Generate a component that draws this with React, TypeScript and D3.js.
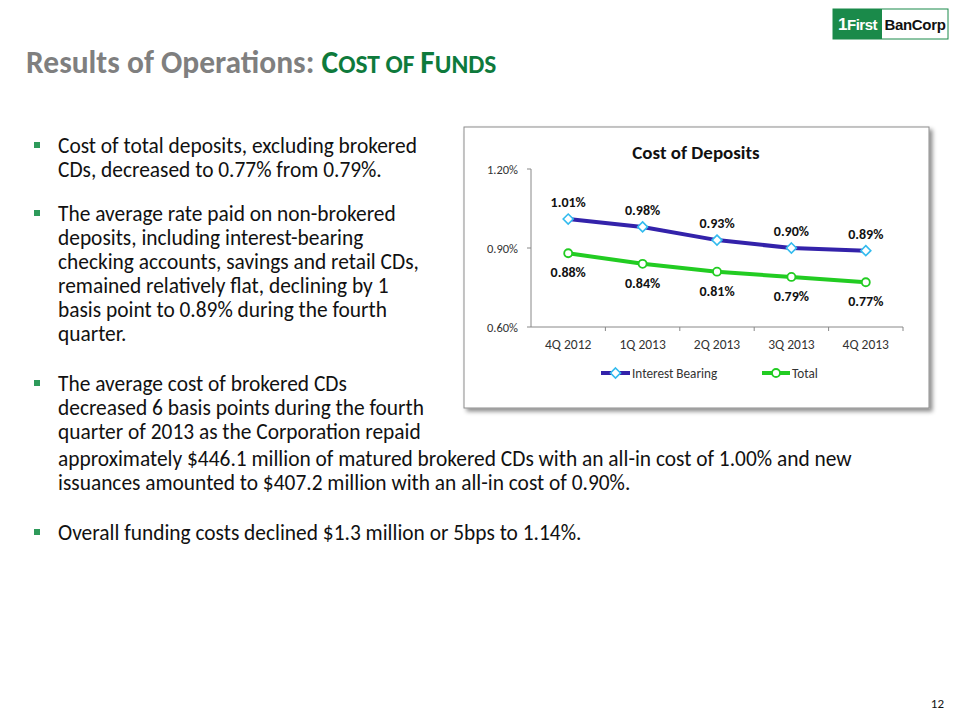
import React from "react";
import * as d3 from "d3";

const categories = ["4Q 2012", "1Q 2013", "2Q 2013", "3Q 2013", "4Q 2013"];
const interestBearing = [1.01, 0.98, 0.93, 0.9, 0.89];
const total = [0.88, 0.84, 0.81, 0.79, 0.77];
const yTicks = [0.6, 0.9, 1.2];
const seriesNames = ["Interest Bearing", "Total"];

const paragraphs: string[][] = [
  ["Cost of total deposits, excluding brokered", "CDs, decreased to 0.77% from 0.79%."],
  [
    "The average rate paid on non-brokered",
    "deposits, including interest-bearing",
    "checking accounts, savings and retail CDs,",
    "remained relatively flat, declining by 1",
    "basis point to 0.89% during the fourth",
    "quarter.",
  ],
  [
    "The average cost of brokered CDs",
    "decreased 6 basis points during the fourth",
    "quarter of 2013 as the Corporation repaid",
    "approximately $446.1 million of matured brokered CDs with an all-in cost of 1.00% and new",
    "issuances amounted to $407.2 million with an all-in cost of 0.90%.",
  ],
  ["Overall funding costs declined $1.3 million or 5bps to 1.14%."],
];
const paraStarts = [153, 221, 391, 540];

const FONT = "Carlito, Calibri, Lato, 'Open Sans', sans-serif";

export default function App() {
  const x = d3.scaleBand<string>().domain(categories).range([531, 903]);
  const y = d3.scaleLinear().domain([0.6, 1.2]).range([327, 169]);
  const cx = (c: string) => (x(c) as number) + x.bandwidth() / 2;
  const line = d3
    .line<number>()
    .x((_, i) => cx(categories[i]))
    .y((d) => y(d));
  const blue = "#3322aa";
  const green = "#22cc22";
  const pct = (v: number) => d3.format(".2f")(v) + "%";

  return (
    <div style={{ position: "absolute", left: 0, top: 0 }}>
      <svg width={960} height={720} style={{ display: "block", fontFamily: FONT }}>
        <defs>
          <filter id="sh" x="-5%" y="-5%" width="115%" height="115%">
            <feDropShadow dx="3" dy="3" stdDeviation="2" floodColor="#000" floodOpacity="0.45" />
          </filter>
          <linearGradient id="rule" x1="0" x2="1">
            <stop offset="0" stopColor="#8a9a90" />
            <stop offset="1" stopColor="#2e8b57" />
          </linearGradient>
        </defs>
        <rect width={960} height={720} fill="#fff" />

        {/* logo */}
        <rect x={833} y={9} width={115} height={30} fill="#fff" stroke="#1a8a4a" strokeWidth={1} />
        <rect x={833} y={9} width={49} height={30} fill="#1a8a4a" />
        <text x={857.5} y={30} fill="#fff" fontFamily="'Liberation Sans', Arial, sans-serif" fontWeight="bold" fontSize={15} textAnchor="middle" letterSpacing={-0.5}>
          <tspan fontSize={17}>1</tspan>First
        </text>
        <text x={915} y={30} fill="#111" fontFamily="'Liberation Sans', Arial, sans-serif" fontWeight="bold" fontSize={15} textAnchor="middle" letterSpacing={-0.3}>
          BanCorp
        </text>

        {/* title */}
        <text x={26} y={73} fontSize={31.5} fontWeight="bold">
          <tspan fill="#7f7f7f">Results of Operations: </tspan>
          <tspan fill="#0e7a3c">C</tspan>
          <tspan fill="#0e7a3c" fontSize={25.5}>OST OF </tspan>
          <tspan fill="#0e7a3c">F</tspan>
          <tspan fill="#0e7a3c" fontSize={25.5}>UNDS</tspan>
        </text>
        <line x1={8} x2={938} y1={79.5} y2={79.5} stroke="url(#rule)" strokeWidth={1.5} />

        {/* body text */}
        {paragraphs.map((p, pi) => (
          <g key={pi}>
            <rect x={34} y={paraStarts[pi] - 11} width={6} height={6} fill="#2e9a5a" />
            {p.map((l, li) => (
              <text key={li} x={58} y={paraStarts[pi] + li * 24 + (pi === 2 && li >= 3 ? 3 : 0)} fontSize={21.4} fill="#111">
                {l}
              </text>
            ))}
          </g>
        ))}

        {/* chart box */}
        <rect x={464} y={127} width={465} height={281} fill="#fff" stroke="#8c8c8c" strokeWidth={1} filter="url(#sh)" />
        <text x={696} y={159} textAnchor="middle" fontSize={19} fontWeight="bold" fill="#111">
          Cost of Deposits
        </text>

        {/* y axis */}
        <line x1={531} x2={531} y1={169} y2={327} stroke="#888" />
        {yTicks.map((t) => (
          <g key={t}>
            <line x1={527} x2={531} y1={y(t)} y2={y(t)} stroke="#888" />
            <text x={518} y={y(t) + 4.5} textAnchor="end" fontSize={12.5} fill="#333">
              {pct(t)}
            </text>
          </g>
        ))}
        {/* x axis */}
        <line x1={531} x2={903} y1={327} y2={327} stroke="#888" />
        {categories.map((c) => (
          <g key={c}>
            <line x1={(x(c) as number) + x.bandwidth()} x2={(x(c) as number) + x.bandwidth()} y1={327} y2={331} stroke="#888" />
            <text x={cx(c)} y={349} textAnchor="middle" fontSize={13.5} fill="#333">
              {c}
            </text>
          </g>
        ))}

        {/* lines */}
        <path d={line(interestBearing) || ""} fill="none" stroke={blue} strokeWidth={4} strokeLinejoin="round" />
        <path d={line(total) || ""} fill="none" stroke={green} strokeWidth={4} strokeLinejoin="round" />
        {interestBearing.map((v, i) => {
          const px = cx(categories[i]);
          const py = y(v);
          return (
            <g key={"b" + i}>
              <path d={`M${px},${py - 5}L${px + 5},${py}L${px},${py + 5}L${px - 5},${py}Z`} fill="#fff" stroke="#33bbee" strokeWidth={1.6} />
              <text x={px} y={py - 12} textAnchor="middle" fontSize={14} fontWeight="bold" fill="#111">
                {pct(v)}
              </text>
            </g>
          );
        })}
        {total.map((v, i) => {
          const px = cx(categories[i]);
          const py = y(v);
          return (
            <g key={"g" + i}>
              <circle cx={px} cy={py} r={4} fill="#fff" stroke={green} strokeWidth={1.8} />
              <text x={px} y={py + 24} textAnchor="middle" fontSize={14} fontWeight="bold" fill="#111">
                {pct(v)}
              </text>
            </g>
          );
        })}

        {/* legend */}
        <line x1={601} x2={630} y1={373} y2={373} stroke={blue} strokeWidth={4} />
        <path d="M615.5,368L620.5,373L615.5,378L610.5,373Z" fill="#fff" stroke="#33bbee" strokeWidth={1.6} />
        <text x={632} y={377.5} fontSize={13.2} fill="#333">
          {seriesNames[0]}
        </text>
        <line x1={762} x2={790} y1={373} y2={373} stroke={green} strokeWidth={4} />
        <circle cx={776} cy={373} r={4} fill="#fff" stroke={green} strokeWidth={1.8} />
        <text x={792} y={377.5} fontSize={13.2} fill="#333">
          {seriesNames[1]}
        </text>

        <text x={944} y={708} textAnchor="end" fontSize={13} fill="#111">
          12
        </text>
      </svg>
    </div>
  );
}
